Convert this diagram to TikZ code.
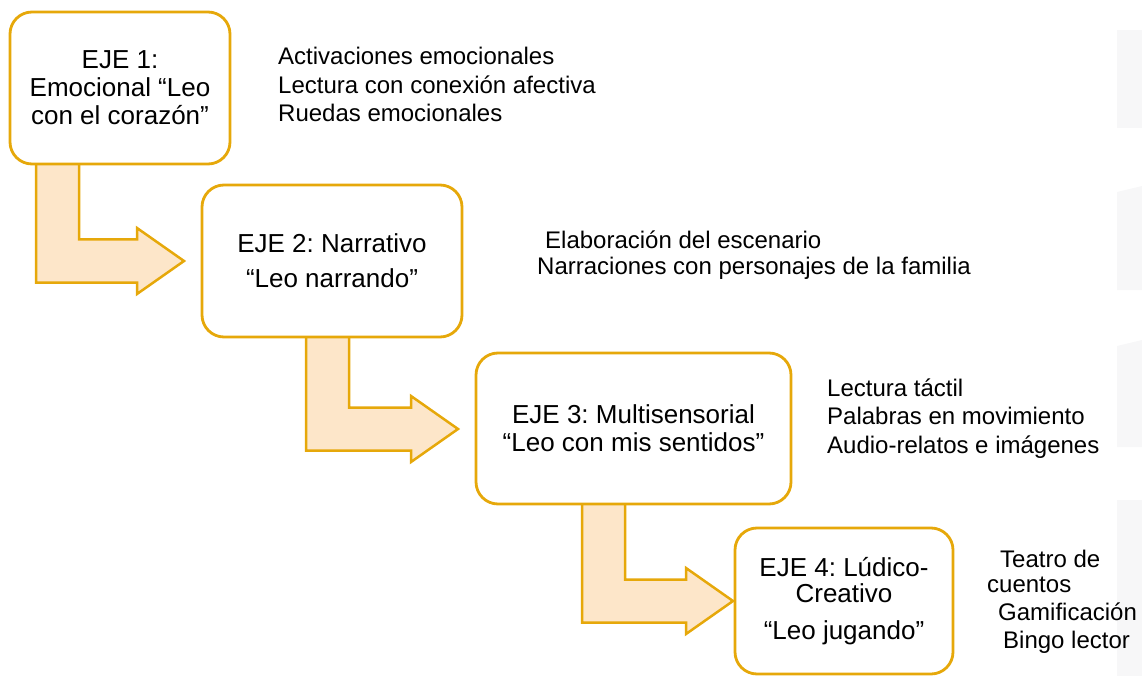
\documentclass[tikz,border=0pt]{standalone}
\usepackage{fontspec}
\setmainfont{Liberation Sans}
\frenchspacing
\definecolor{gold}{RGB}{230,168,10}
\definecolor{peach}{RGB}{253,230,201}
\definecolor{faint}{RGB}{247,247,248}
\begin{document}
\frenchspacing
\begin{tikzpicture}[x=1pt,y=-1pt,
  box/.style={draw=gold, line width=2.8pt, fill=white, rounded corners=22pt,
    inner sep=0pt, align=center, font=\fontsize{26}{28}\selectfont},
  blockarrow/.style={draw=gold, line width=2.5pt, fill=peach, line join=miter},
  item/.style={anchor=base west, inner sep=0pt, font=\fontsize{24}{28}\selectfont}]
\useasboundingbox (0,0) rectangle (1142,676);
% faint shapes at right edge
\fill[faint] (1117,30) rectangle (1142,128);
\fill[faint] (1117,192) -- (1142,186) -- (1142,290) -- (1117,290) -- cycle;
\fill[faint] (1117,346) -- (1142,340) -- (1142,447) -- (1117,447) -- cycle;
\fill[faint] (1117,500) rectangle (1142,676);
% block arrows
\draw[blockarrow] (36,158) -- (79,158) -- (79,239.5) -- (137,239.5) -- (137,228)
  -- (184,261) -- (137,294) -- (137,282.5) -- (36,282.5) -- cycle;
\draw[blockarrow] (306,332) -- (349,332) -- (349,407.5) -- (411,407.5) -- (411,396)
  -- (458,429) -- (411,462) -- (411,450.5) -- (306,450.5) -- cycle;
\draw[blockarrow] (582,500) -- (625,500) -- (625,579.5) -- (686,579.5) -- (686,568)
  -- (733,601) -- (686,634) -- (686,622.5) -- (582,622.5) -- cycle;
% boxes
\node[box, minimum width=220pt, minimum height=152pt] (b1) at (120,88)
  {EJE 1:\\Emocional “Leo\\con el corazón”};
\node[box, minimum width=260pt, minimum height=152pt] (b2) at (332,261)
  {EJE 2: Narrativo\\[7pt] “Leo narrando”};
\node[box, minimum width=315pt, minimum height=151pt] (b3) at (633.5,428.5)
  {EJE 3: Multisensorial\\“Leo con mis sentidos”};
\node[box, minimum width=218pt, minimum height=146pt,
  font=\fontsize{26}{26}\selectfont] (b4) at (844,601)
  {EJE 4: Lúdico-\\Creativo\\[11pt] “Leo jugando”};
% item lists
\node[item] (r1a) at (278,65) {Activaciones emocionales};
\node[item] (r1b) at (278,93.5) {Lectura con conexión afectiva};
\node[item] (r1c) at (278,122) {Ruedas emocionales};
\node[item] (r2a) at (545,248) {Elaboración del escenario};
\node[item] (r2b) at (537,274) {Narraciones con personajes de la familia};
\node[item] (r3a) at (827,396) {Lectura táctil};
\node[item] (r3b) at (827,424.5) {Palabras en movimiento};
\node[item] (r3c) at (827,453) {Audio-relatos e imágenes};
\node[item] (r4a) at (1000,567) {Teatro de};
\node[item] (r4b) at (987,592) {cuentos};
\node[item] (r4c) at (998,620) {Gamificación};
\node[item] (r4d) at (1003,648) {Bingo lector};
\end{tikzpicture}
\end{document}
